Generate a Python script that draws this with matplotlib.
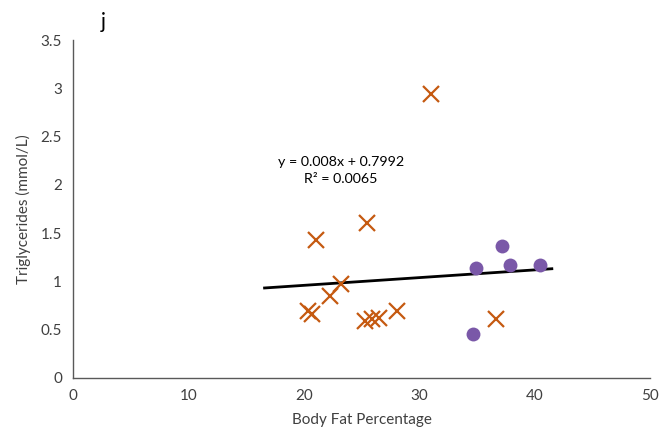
import numpy as np
import matplotlib.pyplot as plt

plt.rcParams['font.family'] = ['Lato', 'DejaVu Sans']

# orange crosses
cross_x = [31.0, 21.1, 25.5, 23.2, 22.3, 20.4, 20.7, 25.3, 25.9, 26.5, 28.1, 36.7]
cross_y = [2.94, 1.43, 1.61, 0.97, 0.85, 0.69, 0.66, 0.59, 0.61, 0.62, 0.69, 0.61]

# purple circles
circ_x = [34.9, 37.2, 37.9, 40.5, 34.7]
circ_y = [1.14, 1.37, 1.17, 1.17, 0.46]

# trendline
slope = 0.008
intercept = 0.7992
trend_range = [16.6, 41.5]
eq_text = "y = 0.008x + 0.7992\nR² = 0.0065"

fig = plt.figure(figsize=(6.7, 4.4), dpi=100)
ax = fig.add_axes([0.109, 0.141, 0.861, 0.768])

tx = np.array(trend_range)
ax.plot(tx, slope * tx + intercept, color='black', lw=2, zorder=1)
ax.plot(cross_x, cross_y, ls='none', marker='x', ms=12, mew=1.6,
        color='#C55A11', zorder=2)
ax.plot(circ_x, circ_y, ls='none', marker='o', ms=10, color='#7A58A8',
        mec='none', zorder=3)

ax.set_xlim(0, 50)
ax.set_ylim(0, 3.5)
ax.set_xticks(np.arange(0, 51, 10))
ax.set_yticks(np.arange(0, 3.51, 0.5))
ax.set_yticklabels(['0', '0.5', '1', '1.5', '2', '2.5', '3', '3.5'])
ax.tick_params(length=0, labelsize=11, colors='#404040', pad=8)
for s in ['top', 'right']:
    ax.spines[s].set_visible(False)
for s in ['left', 'bottom']:
    ax.spines[s].set_color('#595959')
    ax.spines[s].set_linewidth(1)

ax.set_xlabel('Body Fat Percentage', fontsize=11, color='#404040', labelpad=7)
ax.set_ylabel('Triglycerides (mmol/L)', fontsize=11, color='#404040', labelpad=7)

ax.text(23.2, 2.15, eq_text, ha='center', va='center', fontsize=10.3,
        linespacing=1.55, color='black')
fig.text(103 / 670, 1 - 22 / 440, 'j', fontsize=15, ha='center', va='center')

fig.savefig('out.png', dpi=100)
